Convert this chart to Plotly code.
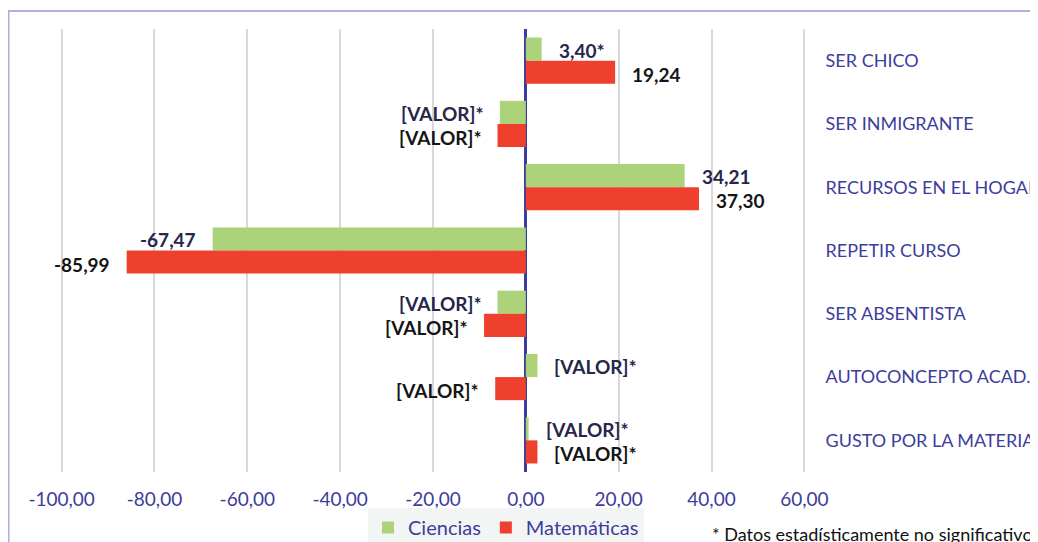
import plotly.graph_objects as go

categories = ["SER CHICO", "SER INMIGRANTE", "RECURSOS EN EL HOGAR", "REPETIR CURSO",
              "SER ABSENTISTA", "AUTOCONCEPTO ACAD.", "GUSTO POR LA MATERIA"]
ciencias = [3.40, -5.6, 34.21, -67.47, -6.1, 2.5, 0.6]
matematicas = [19.24, -6.1, 37.30, -85.99, -9.0, -6.6, 2.5]
ciencias_labels = ["3,40*", "[VALOR]*", "34,21", "-67,47", "[VALOR]*", "[VALOR]*", "[VALOR]*"]
matematicas_labels = ["19,24", "[VALOR]*", "37,30", "-85,99", "[VALOR]*", "[VALOR]*", "[VALOR]*"]
tick_vals = [-100, -80, -60, -40, -20, 0, 20, 40, 60]
tick_text = ["-100,00", "-80,00", "-60,00", "-40,00", "-20,00", "0,00", "20,00", "40,00", "60,00"]
footnote = "* Datos estadísticamente no significativos"

# page body adds an 8px offset, so the figure is 8px smaller than the window
W, H = 1030, 534
FONT = "Lato"
AXIS_COLOR = "#3d3d9b"
GREEN = "#acd27a"
RED = "#ef402d"
BW = 0.365

pos = list(range(len(categories)))

fig = go.Figure()
fig.add_trace(go.Bar(
    name="Ciencias", x=ciencias, y=pos, orientation="h",
    width=BW, offset=-BW, marker=dict(color=GREEN, line=dict(width=0)),
))
fig.add_trace(go.Bar(
    name="Matemáticas", x=matematicas, y=pos, orientation="h",
    width=BW, offset=0, marker=dict(color=RED, line=dict(width=0)),
))

annotations = []
for i, (v, t) in enumerate(zip(ciencias, ciencias_labels)):
    annotations.append(dict(
        x=v, y=i - BW / 2, xref="x", yref="y", text=t, showarrow=False,
        xanchor="left" if v >= 0 else "right", xshift=15 if v >= 0 else -15, yshift=-1,
        font=dict(family=FONT, size=19, color="#26264a", weight="bold"),
    ))
for i, (v, t) in enumerate(zip(matematicas, matematicas_labels)):
    annotations.append(dict(
        x=v, y=i + BW / 2, xref="x", yref="y", text=t, showarrow=False,
        xanchor="left" if v >= 0 else "right", xshift=15 if v >= 0 else -15, yshift=-2,
        font=dict(family=FONT, size=19, color="#151515", weight="bold"),
    ))

L, R, T, B = 49.4, 229.4, 21, 70
PW = W - L - R
PH = H - T - B

annotations.append(dict(
    x=(702 - L) / PW, y=-(526 - (H - B)) / PH, xref="paper", yref="paper",
    text=footnote, showarrow=False, xanchor="left", yanchor="middle",
    font=dict(family=FONT, size=18, color="#111111"),
))

fig.update_layout(
    width=W, height=H,
    margin=dict(l=L, r=R, t=T, b=B, autoexpand=False),
    paper_bgcolor="white", plot_bgcolor="white",
    barmode="overlay",
    showlegend=True,
    legend=dict(
        orientation="h", xref="container", yref="container",
        x=360 / W, y=1 - 500 / H, xanchor="left", yanchor="top",
        bgcolor="#f3f5f5", font=dict(family=FONT, size=20, color=AXIS_COLOR),
        itemwidth=30, traceorder="normal",
    ),
    annotations=annotations,
    shapes=[dict(
        type="rect", xref="paper", yref="paper",
        x0=(1 - L) / PW, x1=2, y0=-1, y1=1 + (T - 3) / PH,
        line=dict(color="#b0b0e0", width=2), fillcolor="rgba(0,0,0,0)", layer="below",
    )],
    xaxis=dict(
        range=[-101, 61], tickvals=tick_vals, ticktext=tick_text,
        showgrid=True, gridcolor="#d9d9d9", gridwidth=1.5,
        zeroline=True, zerolinecolor=AXIS_COLOR, zerolinewidth=2.5,
        showline=False, ticks="outside", ticklen=10, tickcolor="rgba(0,0,0,0)",
        tickfont=dict(family=FONT, size=19, color=AXIS_COLOR),
        layer="above traces", fixedrange=True,
    ),
    yaxis=dict(
        range=[6.5, -0.5], tickvals=pos, ticktext=categories, side="right",
        showgrid=False, zeroline=False, showline=False,
        ticks="outside", ticklen=12, tickcolor="rgba(0,0,0,0)",
        tickfont=dict(family=FONT, size=18, color=AXIS_COLOR),
        automargin=False, fixedrange=True,
    ),
)

fig.write_html("out.html")
